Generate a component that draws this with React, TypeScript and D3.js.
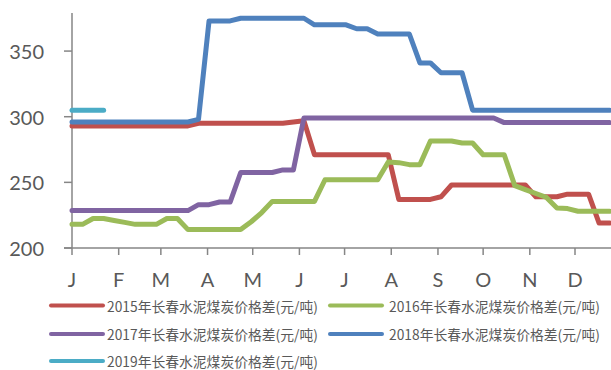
import React from 'react';
import * as d3 from 'd3';

const monthLabels = ['J', 'F', 'M', 'A', 'M', 'J', 'J', 'A', 'S', 'O', 'N', 'D'];
const yTicks = [200, 250, 300, 350];

const name2015 = '2015年长春水泥煤炭价格差(元/吨)';
const name2016 = '2016年长春水泥煤炭价格差(元/吨)';
const name2017 = '2017年长春水泥煤炭价格差(元/吨)';
const name2018 = '2018年长春水泥煤炭价格差(元/吨)';
const name2019 = '2019年长春水泥煤炭价格差(元/吨)';

// weekly values (week index 0..51)
const s2015 = [293, 293, 293, 293, 293, 293, 293, 293, 293, 293, 293, 293, 295, 295, 295, 295, 295, 295, 295, 295, 295, 296, 297, 271, 271, 271, 271, 271, 271, 271, 271, 237, 237, 237, 237, 239, 248, 248, 248, 248, 248, 248, 248, 248, 239, 239, 239, 241, 241, 241, 219, 219];
const s2016 = [218, 218, 222.5, 222.5, 221, 219.5, 218, 218, 218, 222.5, 222.5, 214, 214, 214, 214, 214, 214, 220, 227, 235.5, 235.5, 235.5, 235.5, 235.5, 252, 252, 252, 252, 252, 252, 265.5, 265, 263.5, 263.5, 281.5, 281.5, 281.5, 280, 280, 271, 271, 271, 247.5, 244.5, 241.5, 238.5, 230.5, 230, 228, 228, 228, 228];
const s2017 = [228.5, 228.5, 228.5, 228.5, 228.5, 228.5, 228.5, 228.5, 228.5, 228.5, 228.5, 228.5, 233, 233, 235, 235, 257.5, 257.5, 257.5, 257.5, 259.5, 259.5, 299, 299, 299, 299, 299, 299, 299, 299, 299, 299, 299, 299, 299, 299, 299, 299, 299, 299, 299, 295.5, 295.5, 295.5, 295.5, 295.5, 295.5, 295.5, 295.5, 295.5, 295.5, 295.5];
const s2018 = [296, 296, 296, 296, 296, 296, 296, 296, 296, 296, 296, 296, 298, 373, 373, 373, 375, 375, 375, 375, 375, 375, 375, 370, 370, 370, 370, 367, 367, 363, 363, 363, 363, 341, 341, 333.5, 333.5, 333.5, 305, 305, 305, 305, 305, 305, 305, 305, 305, 305, 305, 305, 305, 305];
const s2019 = [305, 305, 305, 305];

const colors = ['#C0504D', '#9BBB59', '#8064A2', '#4F81BD', '#4BACC6'];

const series = [
  { name: name2015, values: s2015, color: colors[0] },
  { name: name2016, values: s2016, color: colors[1] },
  { name: name2017, values: s2017, color: colors[2] },
  { name: name2018, values: s2018, color: colors[3] },
  { name: name2019, values: s2019, color: colors[4] },
];

export default function App() {
  const W = 611;
  const H = 370;
  const start = new Date(2015, 0, 1);
  const end = new Date(2016, 0, 1);
  const x = d3.scaleTime().domain([start, end]).range([72, 72 + 365 * 1.506]);
  const y = d3.scaleLinear().domain([200, 379]).range([248, 13]);
  const weekDate = (i: number) => d3.timeDay.offset(start, 7 * i);
  const line = d3
    .line<number>()
    .x((_, i) => x(weekDate(i)))
    .y((v) => y(v));
  const monthTicks = d3.timeMonth.range(start, end);
  const axisColor = '#868686';
  const textColor = '#595959';
  const axisFont = 'Lato, "Open Sans", sans-serif';
  const legendFont = '"Noto Sans CJK SC", "Noto Sans", sans-serif';

  const legendPos = [
    { sx: 51, tx: 107, y: 305.5 },
    { sx: 330, tx: 389, y: 305.5 },
    { sx: 51, tx: 107, y: 334 },
    { sx: 330, tx: 389, y: 334 },
    { sx: 51, tx: 107, y: 361 },
  ];

  return (
    <svg
      width={W}
      height={H}
      style={{ position: 'absolute', left: 0, top: 0, background: '#fff' }}
    >
      <rect width={W} height={H} fill="#fff" />
      {/* axes */}
      <line x1={72} x2={72} y1={13} y2={248} stroke={axisColor} strokeWidth={1.5} />
      <line x1={64} x2={W} y1={248} y2={248} stroke={axisColor} strokeWidth={1.5} />
      {yTicks.map((t) => (
        <g key={t}>
          <line x1={64} x2={72} y1={y(t)} y2={y(t)} stroke={axisColor} strokeWidth={1.5} />
          <text
            x={44}
            y={y(t)}
            textAnchor="end"
            dominantBaseline="central"
            fontFamily={axisFont}
            fontSize={20}
            fill={textColor}
          >
            {t}
          </text>
        </g>
      ))}
      {monthTicks.map((d, i) => (
        <g key={i}>
          <line x1={x(d)} x2={x(d)} y1={248} y2={255} stroke={axisColor} strokeWidth={1.5} />
          <text
            x={x(d)}
            y={279}
            textAnchor="middle"
            dominantBaseline="central"
            fontFamily={axisFont}
            fontSize={20}
            fill={textColor}
          >
            {monthLabels[i]}
          </text>
        </g>
      ))}
      {/* lines */}
      {series.map((s, k) => (
        <path
          key={k}
          d={line(s.values) || ''}
          fill="none"
          stroke={s.color}
          strokeWidth={5}
          strokeLinejoin="round"
          strokeLinecap="round"
        />
      ))}
      {/* legend */}
      {series.map((s, k) => (
        <g key={'lg' + k}>
          <line
            x1={legendPos[k].sx}
            x2={legendPos[k].sx + 52}
            y1={legendPos[k].y}
            y2={legendPos[k].y}
            stroke={s.color}
            strokeWidth={4}
            strokeLinecap="round"
          />
          <text
            x={legendPos[k].tx}
            y={legendPos[k].y}
            dominantBaseline="central"
            fontFamily={legendFont}
            fontSize={13.8}
            fill={textColor}
          >
            {s.name}
          </text>
        </g>
      ))}
    </svg>
  );
}
